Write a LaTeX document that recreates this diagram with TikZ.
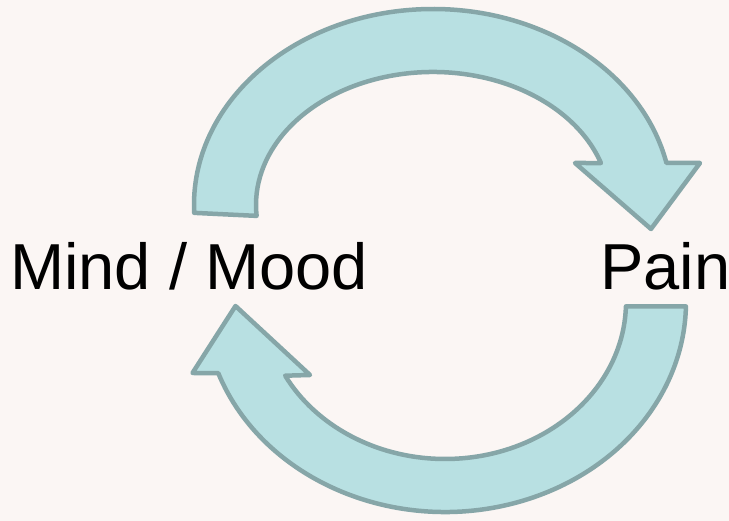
\documentclass[tikz,border=0pt]{standalone}
\usepackage{fontspec}
\setmainfont{Liberation Sans}
\usepackage{xcolor}
\usepackage{tikz}
\usetikzlibrary{calc}

\begin{document}
\begin{tikzpicture}[x=1pt, y=1pt, font=\fontsize{65}{78}\selectfont,
  cyc/.style={fill=arrFill, draw=arrEdge, line width=4.5pt, line join=round},
  lbl/.style={anchor=base west, inner sep=0pt, text=black}]

\definecolor{bgPaper}{HTML}{FBF6F4}
\definecolor{arrFill}{HTML}{B8E0E2}
\definecolor{arrEdge}{HTML}{86A6A8}

% paper
\fill[bgPaper] (0,0) rectangle (729,521);
\useasboundingbox (0,0) rectangle (729,521);

% labels
\node[lbl] (mind) at (10,231) {Mind / Mood};
\node[lbl] (pain) at (600,231) {Pain};

% ===== top arrow, centre (433,316): outer 239x196, inner 177x133 =====
\coordinate (topC) at (433,316);
\draw[cyc] ($(topC)+(182.3:239pt and 196pt)$)
  arc[start angle=182.3, end angle=12.4, x radius=239pt, y radius=196pt]
  -- (700,358) -- (651,292) -- (575,358)
  -- ($(topC)+(18.4:177pt and 133pt)$)
  arc[start angle=18.4, end angle=184.7, x radius=177pt, y radius=133pt]
  -- cycle;

% ===== bottom arrow, centre (445,219): outer 241x210, inner 181x157 =====
\coordinate (botC) at (445,219);
\draw[cyc] ($(botC)+(-1.2:241pt and 210pt)$)
  -- ($(botC)+(-1.6:181pt and 157pt)$)
  arc[start angle=-1.6, end angle=-152, x radius=181pt, y radius=157pt]
  -- (310,146) -- (235.5,215) -- (192.5,148)
  -- ($(botC)+(-160.2:241pt and 210pt)$)
  arc[start angle=-160.2, end angle=-1.2, x radius=241pt, y radius=210pt]
  -- cycle;

\end{tikzpicture}
\end{document}
